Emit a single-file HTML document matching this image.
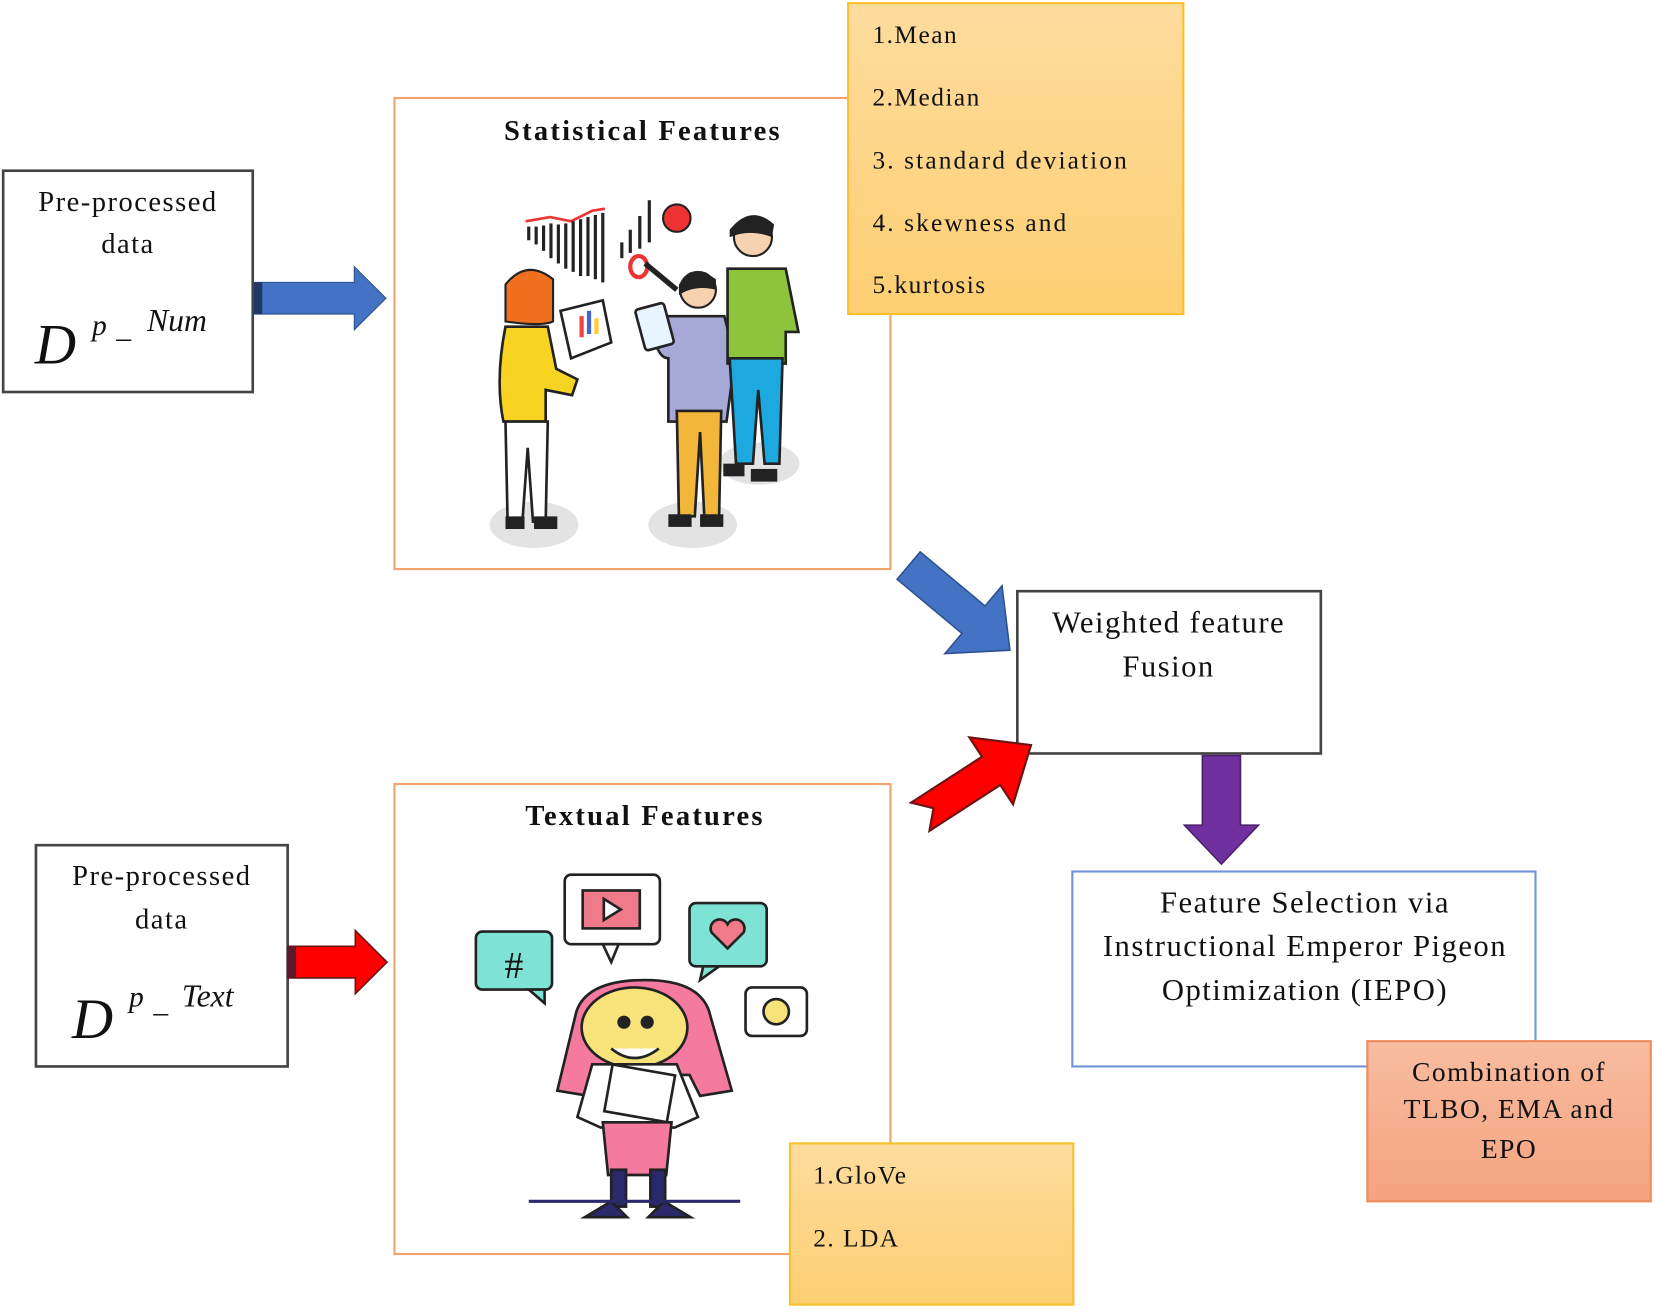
<!DOCTYPE html>
<html><head><meta charset="utf-8"><style>
html,body{margin:0;padding:0;background:#fff;}
svg{display:block;}
text{font-family:"Liberation Serif",serif;fill:#111;letter-spacing:1.4px;}
text.t{letter-spacing:2.1px;}
text.m{letter-spacing:0;}
</style></head><body>
<svg width="1655" height="1312" viewBox="0 0 1565 1245" preserveAspectRatio="none" xmlns="http://www.w3.org/2000/svg">
<defs>
<linearGradient id="yel" x1="0" y1="0" x2="0" y2="1"><stop offset="0" stop-color="#fedc9e"/><stop offset="1" stop-color="#fdcf73"/></linearGradient>
<linearGradient id="sal" x1="0" y1="0" x2="0" y2="1"><stop offset="0" stop-color="#f8bca0"/><stop offset="1" stop-color="#f4a37f"/></linearGradient>
</defs>

<rect x="3" y="162" width="236" height="210" fill="#fff" stroke="#444" stroke-width="2.5"/>
<text x="121" y="200" font-size="27" text-anchor="middle">Pre-processed</text>
<text x="121" y="240" font-size="27" text-anchor="middle">data</text>
<text class="m" x="33" y="345" font-size="54" font-style="italic">D</text>
<text class="m" x="87" y="318" font-size="28" font-style="italic">p</text>
<text class="m" x="110" y="320" font-size="28" font-style="italic">_</text>
<text class="m" x="139" y="314" font-size="30" font-style="italic">Num</text>

<polygon points="240,268 335,268 335,253 365,283 335,313 335,298 240,298" fill="#4472c4" stroke="#2f528f" stroke-width="1"/>
<rect x="240" y="268" width="8" height="30" fill="#1f3864"/>

<rect x="373" y="93" width="469" height="447" fill="#fff" stroke="#f4a46a" stroke-width="2"/>
<text class="t" x="608" y="133" font-size="27" font-weight="bold" text-anchor="middle">Statistical Features</text>

<g>
<ellipse cx="505" cy="498" rx="42" ry="22" fill="#e3e3e3"/>
<ellipse cx="655" cy="498" rx="42" ry="22" fill="#e3e3e3"/>
<ellipse cx="718" cy="440" rx="38" ry="20" fill="#e3e3e3"/>
<polyline points="497,210 520,206 540,210 560,200 572,198" fill="none" stroke="#e33" stroke-width="2.5"/>
<g stroke="#222" stroke-width="3">
<line x1="500" y1="215" x2="500" y2="228"/><line x1="507" y1="215" x2="507" y2="232"/><line x1="514" y1="214" x2="514" y2="238"/><line x1="521" y1="212" x2="521" y2="245"/><line x1="528" y1="213" x2="528" y2="250"/><line x1="535" y1="212" x2="535" y2="255"/><line x1="542" y1="210" x2="542" y2="258"/><line x1="549" y1="208" x2="549" y2="262"/><line x1="556" y1="206" x2="556" y2="262"/><line x1="563" y1="204" x2="563" y2="265"/><line x1="570" y1="202" x2="570" y2="268"/>
<line x1="588" y1="230" x2="588" y2="245"/><line x1="596" y1="218" x2="596" y2="240"/><line x1="605" y1="205" x2="605" y2="236"/><line x1="614" y1="190" x2="614" y2="230"/>
</g>
<circle cx="640" cy="207" r="13" fill="#e33" stroke="#222" stroke-width="2"/>
<ellipse cx="604" cy="253" rx="8" ry="10" fill="none" stroke="#e33" stroke-width="4"/>
<path d="M478,270 q20,-25 45,-5 l0,40 q-10,5 -45,0z" fill="#f07020" stroke="#222" stroke-width="2"/>
<path d="M478,310 l40,0 l8,40 l20,10 l-5,15 l-25,-5 l0,30 l-40,0 q-8,-40 2,-90z" fill="#f8d422" stroke="#222" stroke-width="2.5"/>
<path d="M478,400 l40,0 l-2,95 l-12,0 l-5,-70 l-5,70 l-14,0z" fill="#fff" stroke="#222" stroke-width="2.5"/>
<rect x="478" y="490" width="18" height="12" fill="#222"/><rect x="505" y="490" width="22" height="12" fill="#222"/>
<polygon points="530,295 570,285 578,325 540,340" fill="#fff" stroke="#222" stroke-width="2.5"/>
<rect x="548" y="300" width="4" height="20" fill="#e44"/><rect x="555" y="295" width="4" height="22" fill="#46c"/><rect x="562" y="302" width="4" height="15" fill="#fc3"/>
<circle cx="660" cy="275" r="17" fill="#f6d2b0" stroke="#222" stroke-width="2"/>
<path d="M642,270 q15,-20 35,-5 l0,10 q-20,-5 -35,5z" fill="#222"/>
<path d="M630,300 l55,0 l10,40 l-8,60 l-55,0 l0,-60 q-10,0 -15,-25z" fill="#a6a8d8" stroke="#222" stroke-width="2.5"/>
<rect x="605" y="290" width="28" height="40" rx="3" transform="rotate(-15 619 310)" fill="#e8f4ff" stroke="#222" stroke-width="2.5"/>
<path d="M640,390 l42,0 l-2,100 l-14,0 l-4,-80 l-5,80 l-15,0z" fill="#f2b73a" stroke="#222" stroke-width="2.5"/>
<rect x="632" y="488" width="22" height="12" fill="#222"/><rect x="662" y="488" width="22" height="12" fill="#222"/>
<line x1="610" y1="250" x2="640" y2="275" stroke="#222" stroke-width="5"/>
<circle cx="712" cy="225" r="18" fill="#f6d2b0" stroke="#222" stroke-width="2"/>
<path d="M690,218 q20,-25 42,-5 l-2,12 q-20,-8 -40,0z" fill="#222"/>
<path d="M688,255 l55,0 l12,60 l-12,0 l0,30 l-55,0z" fill="#8dc43c" stroke="#222" stroke-width="2.5"/>
<path d="M690,340 l50,0 l-3,100 l-14,0 l-6,-70 l-5,70 l-16,0z" fill="#1ea8e0" stroke="#222" stroke-width="2.5"/>
<rect x="684" y="440" width="20" height="12" fill="#222"/><rect x="710" y="445" width="25" height="12" fill="#222"/>
</g>

<rect x="802" y="3" width="317" height="295" fill="url(#yel)" stroke="#f9c02b" stroke-width="2"/>
<g font-size="24">
<text x="825" y="41">1.Mean</text>
<text x="825" y="100">2.Median</text>
<text x="825" y="160" style="letter-spacing:2px">3.  standard deviation</text>
<text x="825" y="219" style="letter-spacing:2px">4.  skewness and</text>
<text x="825" y="278">5.kurtosis</text>
</g>

<g transform="translate(955,617) rotate(40)">
<polygon points="0,0 -45,-42 -45,-17 -125,-17 -125,17 -45,17 -45,42" fill="#4472c4" stroke="#2f528f" stroke-width="1.5"/>
</g>

<rect x="962" y="561" width="287" height="154" fill="#fff" stroke="#444" stroke-width="2.5"/>
<text x="1105" y="600" font-size="29" text-anchor="middle">Weighted feature</text>
<text x="1105" y="642" font-size="29" text-anchor="middle">Fusion</text>

<g transform="translate(975,707) rotate(-33)">
<polygon points="0,0 -45,-38 -45,-16 -125,-16 -110,0 -125,16 -45,16 -45,38" fill="#ff0000" stroke="#6b1414" stroke-width="2"/>
</g>

<polygon points="1137,717 1173,717 1173,783 1190,783 1155,820 1120,783 1137,783" fill="#7030a0" stroke="#4a1f6b" stroke-width="1.5"/>

<rect x="1014" y="827" width="438" height="185" fill="#fff" stroke="#6f95d8" stroke-width="2"/>
<g font-size="29" text-anchor="middle">
<text x="1234" y="866">Feature Selection via</text>
<text x="1234" y="907">Instructional Emperor Pigeon</text>
<text x="1234" y="949">Optimization (IEPO)</text>
</g>

<rect x="1293" y="988" width="268" height="152" fill="url(#sal)" stroke="#ee8b5a" stroke-width="2"/>
<g font-size="26" text-anchor="middle">
<text x="1427" y="1026">Combination of</text>
<text x="1427" y="1061">TLBO, EMA and</text>
<text x="1427" y="1099">EPO</text>
</g>

<rect x="373" y="744" width="469" height="446" fill="#fff" stroke="#f4a46a" stroke-width="2"/>
<text class="t" x="610" y="783" font-size="27" font-weight="bold" text-anchor="middle">Textual Features</text>

<g stroke="#222" stroke-width="2.5">
<rect x="450" y="884" width="72" height="55" rx="6" fill="#7ee3d4"/>
<polygon points="500,939 515,939 515,952" fill="#7ee3d4"/>
<text class="m" x="486" y="928" font-size="36" text-anchor="middle" stroke="none" fill="#222" font-family="Liberation Sans,sans-serif">#</text>
<rect x="534" y="830" width="90" height="66" rx="6" fill="#fff"/>
<polygon points="570,896 585,896 578,913" fill="#fff"/>
<rect x="551" y="845" width="54" height="36" fill="#f07a8a"/>
<polygon points="571,853 571,873 587,863" fill="#fff"/>
<rect x="652" y="857" width="73" height="60" rx="6" fill="#7ee3d4"/>
<polygon points="665,917 680,917 662,930" fill="#7ee3d4"/>
<path d="M688,900 l-15,-15 a8,8 0 0 1 15,-8 a8,8 0 0 1 15,8z" fill="#f07a8a"/>
<rect x="705" y="937" width="58" height="46" rx="6" fill="#fff"/>
<circle cx="734" cy="960" r="12" fill="#f8e27a"/>
<path d="M545,960 q10,-30 65,-30 q55,0 62,35 l20,70 l-30,5 l-10,-20 l-85,0 l-10,20 l-30,-5z" fill="#f47aa0"/>
<ellipse cx="600" cy="975" rx="50" ry="38" fill="#f8e27a"/>
<path d="M578,995 q22,18 45,0" fill="#fff"/>
<circle cx="590" cy="970" r="5" fill="#222"/><circle cx="612" cy="970" r="5" fill="#222"/>
<path d="M560,1010 l80,0 l20,50 l-22,10 l-70,0 l-22,-10z" fill="#fff"/>
<rect x="575" y="1015" width="60" height="45" fill="#fff" transform="rotate(10 605 1037)"/>
<path d="M570,1065 l65,0 l-5,50 l-55,0z" fill="#f47aa0"/>
<rect x="578" y="1110" width="14" height="35" fill="#2a2a6a"/><rect x="615" y="1110" width="14" height="35" fill="#2a2a6a"/>
<path d="M578,1140 l-25,15 l40,0z" fill="#2a2a6a"/><path d="M628,1140 l25,15 l-40,0z" fill="#2a2a6a"/>
<line x1="500" y1="1140" x2="700" y2="1140" stroke="#2a2a6a" stroke-width="3"/>
</g>

<rect x="34" y="802" width="238" height="210" fill="#fff" stroke="#444" stroke-width="2.5"/>
<text x="153" y="840" font-size="27" text-anchor="middle">Pre-processed</text>
<text x="153" y="881" font-size="27" text-anchor="middle">data</text>
<text class="m" x="68" y="985" font-size="54" font-style="italic">D</text>
<text class="m" x="122" y="955" font-size="28" font-style="italic">p</text>
<text class="m" x="145" y="960" font-size="28" font-style="italic">_</text>
<text class="m" x="172" y="955" font-size="30" font-style="italic">Text</text>

<polygon points="272,898 336,898 336,883 366,913 336,943 336,928 272,928" fill="#ff0000" stroke="#6b1414" stroke-width="1.5"/>
<rect x="272" y="898" width="8" height="30" fill="#5a1a2a"/>

<rect x="747" y="1085" width="268" height="153" fill="url(#yel)" stroke="#f9c02b" stroke-width="2"/>
<text x="769" y="1123" font-size="24">1.GloVe</text>
<text x="769" y="1183" font-size="24">2. LDA</text>
</svg>
</body></html>
